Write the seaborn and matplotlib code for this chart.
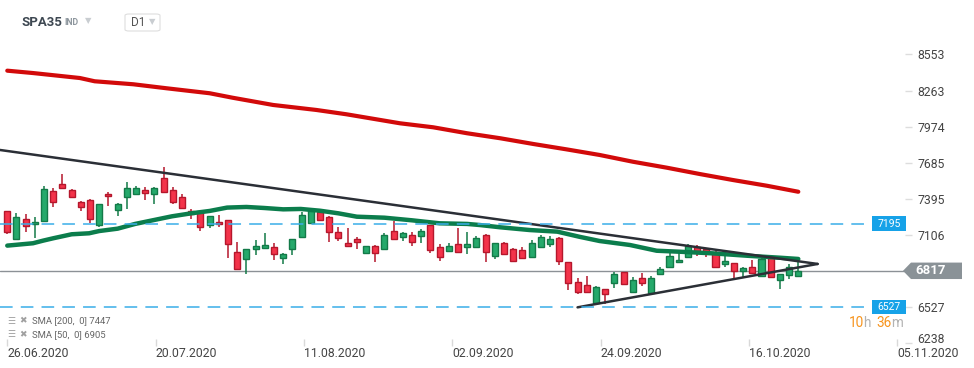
import numpy as np
import matplotlib
matplotlib.use("Agg")
import matplotlib.pyplot as plt
import matplotlib.transforms as mtransforms
from matplotlib.patches import Rectangle, Polygon, FancyBboxPatch
import seaborn as sns

sns.set_theme(style="white")
plt.rcParams['font.family'] = ['Roboto', 'DejaVu Sans']

# daily candles, index 0 = 26.06.2020
opens = [7297, 7070, 7230, 7195, 7219, 7455, 7513, 7463, 7366, 7385,
         7182, 7433, 7308, 7412, 7430, 7463, 7430, 7561, 7465, 7409,
         7294, 7294, 7182, 7209, 7222, 6965, 6912, 6995, 7003, 7005,
         6923, 6995, 7091, 7203, 7289, 7249, 7126, 7038, 7072, 6963,
         7013, 6995, 7136, 7091, 7102, 7099, 7185, 7005, 6979, 7030,
         7005, 7011, 7102, 6939, 7038, 6989, 6981, 6931, 7011, 7030,
         7078, 6885, 6725, 6701, 6561, 6668, 6716, 6805, 6650, 6757,
         6642, 6791, 6850, 6885, 6925, 7011, 6992, 6957, 6869, 6877,
         6815, 6845, 6775, 6925, 6743, 6781, 6778]
highs = [7297, 7283, 7270, 7246, 7497, 7484, 7594, 7471, 7374, 7390,
         7353, 7446, 7358, 7529, 7497, 7487, 7487, 7650, 7487, 7430,
         7310, 7294, 7254, 7265, 7222, 7048, 6989, 7064, 7120, 7038,
         6957, 7070, 7291, 7310, 7310, 7257, 7166, 7163, 7086, 7016,
         7021, 7118, 7219, 7128, 7131, 7150, 7185, 7032, 7038, 7163,
         7128, 7094, 7110, 7038, 7046, 6997, 7005, 7064, 7104, 7099,
         7086, 6885, 6759, 6776, 6695, 6668, 6810, 6805, 6765, 6802,
         6775, 6850, 6968, 6957, 7032, 7024, 6997, 6978, 6944, 6877,
         6847, 6904, 6925, 6946, 6789, 6871, 6909]
lows = [7112, 7070, 7131, 7083, 7219, 7332, 7476, 7406, 7300, 7203,
        7171, 7340, 7259, 7316, 7430, 7388, 7356, 7452, 7353, 7318,
        7233, 7139, 7163, 7171, 6923, 6829, 6789, 6947, 7003, 6907,
        6875, 6947, 7091, 7195, 7227, 7051, 7059, 7019, 6995, 6963,
        6891, 6995, 7067, 7056, 7019, 7043, 6963, 6899, 6965, 6971,
        6949, 7011, 6891, 6912, 6949, 6893, 6917, 6931, 7011, 7005,
        6866, 6663, 6629, 6645, 6553, 6548, 6676, 6700, 6636, 6698,
        6642, 6791, 6837, 6885, 6925, 6936, 6925, 6845, 6845, 6762,
        6765, 6797, 6775, 6770, 6668, 6751, 6765]
closes = [7131, 7246, 7179, 7209, 7471, 7372, 7484, 7406, 7326, 7235,
          7353, 7414, 7353, 7479, 7481, 7444, 7479, 7452, 7366, 7318,
          7270, 7171, 7254, 7193, 7030, 6829, 6989, 7013, 7021, 6949,
          6949, 7070, 7262, 7299, 7227, 7131, 7078, 7019, 7051, 7016,
          6957, 7102, 7075, 7118, 7051, 7136, 6987, 6931, 7019, 6971,
          7030, 7078, 6965, 7038, 6949, 6893, 6917, 7038, 7086, 7070,
          6893, 6722, 6645, 6645, 6684, 6628, 6791, 6708, 6743, 6716,
          6757, 6834, 6936, 6903, 7016, 6979, 6971, 6845, 6893, 6818,
          6837, 6797, 6909, 6770, 6789, 6850, 6818]

# moving averages (candle index, value)
sma200_idx = [0, 2.8, 6.5, 7.9, 9.5, 13.7, 17.3, 22, 24.5, 28.9, 33.6, 36.9, 42.7,
              46.3, 50, 53.6, 57.2, 60.8, 64.4, 68, 71.7, 75.3, 78.9, 82.6, 86]
sma200_val = [8422, 8403, 8374, 8363, 8337, 8313, 8281, 8241, 8205, 8147, 8107, 8072, 8000,
              7968, 7920, 7880, 7834, 7791, 7746, 7692, 7644, 7593, 7545, 7499, 7451]
sma50_idx = [0, 2.8, 3.9, 5, 7, 8.9, 10, 12, 13.9, 16, 17.9, 20, 22, 23.9, 26, 27.9, 30,
             31.9, 34, 36, 38, 41, 44, 47, 50, 51.4, 53.6, 56.8, 59.8, 62.2, 64.4, 67.7,
             70.6, 73.1, 76.7, 80.4, 84, 86]
sma50_val = [7019, 7038, 7059, 7078, 7110, 7118, 7136, 7155, 7193, 7225, 7254, 7278, 7297,
             7324, 7329, 7321, 7310, 7313, 7299, 7278, 7251, 7243, 7222, 7198, 7193, 7184,
             7166, 7144, 7131, 7090, 7056, 7024, 6978, 6970, 6957, 6938, 6922, 6912]

# triangle trend lines
upper_x = [-0.79, 88.1]
upper_y = [7786, 6872]
lower_x = [62.0, 88.1]
lower_y = [6524, 6872]

levels = [7195, 6527]
last_price = 6817
price_ticks = [8553, 8263, 7974, 7685, 7395, 7106, 6817, 6527, 6238]
date_labels = ['26.06.2020', '20.07.2020', '11.08.2020', '02.09.2020',
               '24.09.2020', '16.10.2020', '05.11.2020']
legend_lines = ['SMA [200,  0] 7447', 'SMA [50,  0] 6905']

W, H = 974, 368
fig = plt.figure(figsize=(W / 100, H / 100), dpi=100)
ax = fig.add_axes([0, 22 / H, 905 / W, 306 / H])


def fx(x):
    return x / W


def fy(y):
    return 1 - y / H


x = np.arange(len(opens))
o = np.array(opens)
c = np.array(closes)
up = c >= o
fill = np.where(up, '#25a96b', '#f3334a')
edge = np.where(up, '#137a48', '#b5172c')

ax.vlines(x, lows, highs, colors=edge, lw=1.1, zorder=3)
body = np.maximum(np.abs(c - o), 12)
ax.bar(x, body, bottom=np.minimum(o, c), width=0.66, color=fill,
       edgecolor=edge, linewidth=1.0, zorder=4)

sns.lineplot(x=sma200_idx, y=sma200_val, ax=ax, color='#d20a0a', lw=3, zorder=5)
sns.lineplot(x=sma50_idx, y=sma50_val, ax=ax, color='#0b7d4c', lw=3.2, zorder=5)
ax.plot(upper_x, upper_y, color='#2b2f36', lw=1.8, zorder=6)
ax.plot(lower_x, lower_y, color='#2b2f36', lw=1.8, zorder=6)

for lv in levels:
    ax.axhline(lv, xmin=0, xmax=866 / 905, color='#3aaee8', lw=1.3,
               ls=(0, (7, 4.5)), alpha=0.85, zorder=7)
ax.axhline(last_price, color='#8c9196', lw=1, zorder=2)

ax.set_xlim(-0.79, 97.6)
ax.set_ylim(6214, 8668)
ax.set_xticks(np.arange(len(date_labels)) * 16.13)
ax.set_xticklabels(date_labels, ha='left')
ax.tick_params(axis='x', direction='in', length=5, color='#d9d9d9', width=1,
               labelsize=8.8, labelcolor='#444444', pad=1, bottom=True)
ax.yaxis.tick_right()
ax.set_yticks(price_ticks)
ax.set_yticklabels(['' if v == last_price else str(v) for v in price_ticks])
ax.tick_params(axis='y', direction='out', length=5, color='#dddddd', width=1,
               labelsize=8.8, labelcolor='#444444', pad=4, right=True)
# lowest price label sits a little higher, clear of the last date
low_lab = ax.get_yticklabels()[-1]
low_lab.set_transform(low_lab.get_transform()
                      + mtransforms.ScaledTranslation(0, 0.05, fig.dpi_scale_trans))
for s in ax.spines.values():
    s.set_visible(False)
ax.grid(False)

# price tags
bt = mtransforms.blended_transform_factory(ax.transAxes, ax.transData)
for lv in levels:
    ax.add_patch(Rectangle((872 / 905, lv - 58), 34 / 905, 116, transform=bt,
                           facecolor='#16a2e8', edgecolor='none', clip_on=False, zorder=8))
    ax.text(889 / 905, lv, str(lv), transform=bt, ha='center', va='center',
            color='white', fontsize=7.5, zorder=9, clip_on=False)
ax.add_patch(Polygon([(903 / 905, last_price), (911 / 905, last_price + 66),
                      (962 / 905, last_price + 66), (962 / 905, last_price - 66),
                      (911 / 905, last_price - 66)], closed=True, transform=bt,
                     facecolor='#8a9297', edgecolor='none', clip_on=False, zorder=8))
ax.text(915 / 905, last_price, str(last_price), transform=bt, ha='left', va='center',
        color='white', fontsize=9.5, fontweight='bold', zorder=9, clip_on=False)

# countdown
for px, txt, col in [(849, '10', '#f7941d'), (863, 'h', '#b3b3b3'),
                     (876, '36', '#f7941d'), (891, 'm', '#b3b3b3')]:
    fig.text(fx(px), fy(323), txt, color=col, fontsize=9.8, ha='left', va='center')

# indicator legend
for i, t in enumerate(legend_lines):
    yy = 321 + i * 13.5
    fig.text(fx(7), fy(yy), '☰', color='#a0a0a0', fontsize=6.5, va='center',
             family='DejaVu Sans')
    fig.text(fx(19), fy(yy), '✖', color='#a0a0a0', fontsize=6.5, va='center',
             family='DejaVu Sans')
    fig.text(fx(31.5), fy(yy), t, color='#666666', fontsize=6.8, va='center')

# header
fig.text(fx(21), fy(22), 'SPA35', color='#3e4852', fontsize=9.5, fontweight='bold', va='center')
fig.text(fx(64), fy(22.5), 'IND', color='#8e979e', fontsize=6.3, fontweight='bold', va='center')
fig.text(fx(85), fy(21), '▼', color='#c9cdd1', fontsize=6, va='center', family='DejaVu Sans')
fig.patches.append(FancyBboxPatch((fx(125), fy(31)), fx(35), 17 / H,
                                  boxstyle='round,pad=0,rounding_size=0.004',
                                  transform=fig.transFigure, facecolor='white',
                                  edgecolor='#dedede', lw=0.8))
fig.text(fx(131), fy(22.5), 'D1', color='#555555', fontsize=8.5, va='center')
fig.text(fx(149), fy(22), '▼', color='#c9cdd1', fontsize=6, va='center', family='DejaVu Sans')

fig.savefig('out.png', dpi=100, facecolor='white')
